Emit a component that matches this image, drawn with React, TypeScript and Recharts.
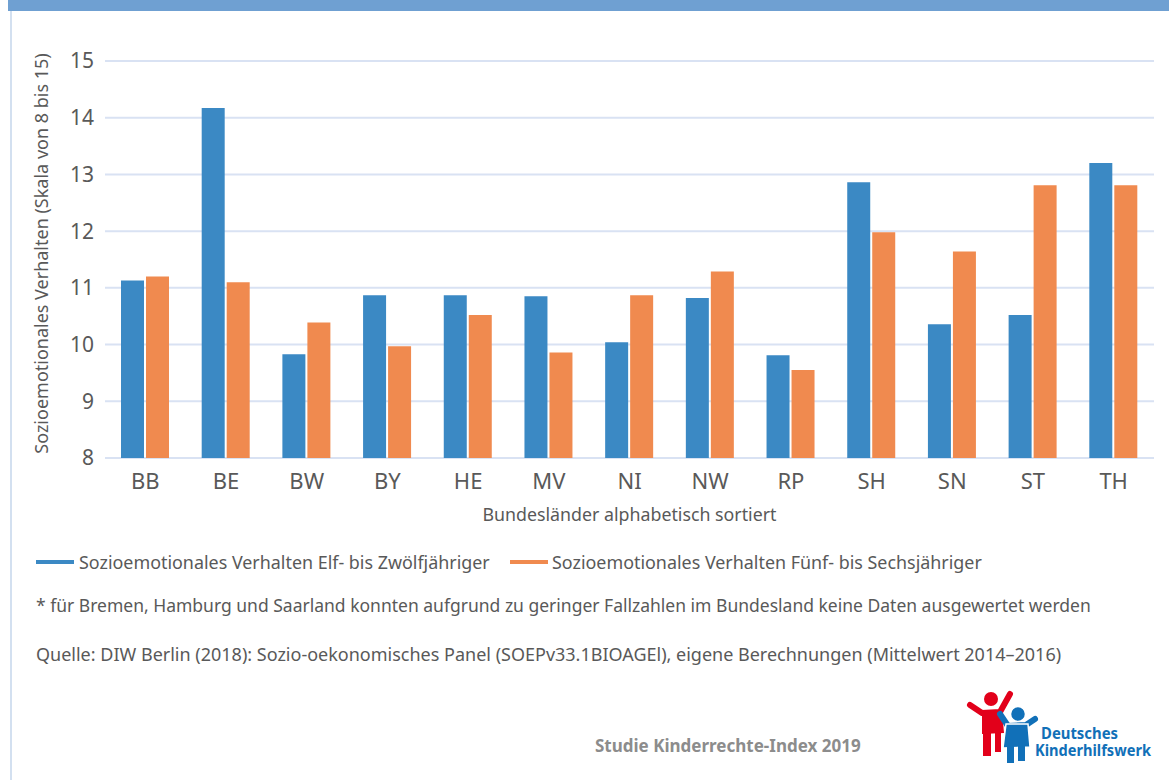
import { Bar, BarChart, CartesianGrid, Label, XAxis, YAxis } from "recharts";

const laender = ["BB", "BE", "BW", "BY", "HE", "MV", "NI", "NW", "RP", "SH", "SN", "ST", "TH"];
const elfBisZwoelf = [11.13, 14.17, 9.83, 10.87, 10.87, 10.85, 10.04, 10.82, 9.81, 12.86, 10.36, 10.52, 13.2];
const fuenfBisSechs = [11.2, 11.1, 10.39, 9.97, 10.52, 9.86, 10.87, 11.29, 9.55, 11.98, 11.64, 12.81, 12.81];
const yTicks = [8, 9, 10, 11, 12, 13, 14, 15];

const nameElf = "Sozioemotionales Verhalten Elf- bis Zwölfjähriger";
const nameFuenf = "Sozioemotionales Verhalten Fünf- bis Sechsjähriger";

const data = laender.map((land, i) => ({
  land,
  elf: elfBisZwoelf[i],
  fuenf: fuenfBisSechs[i],
}));

const BLUE = "#3b89c4";
const ORANGE = "#f08a4f";
const GREY = "#595959";
const FONT = "'Noto Sans', sans-serif";

function Logo() {
  const red = "#e2001a";
  const blue = "#1170b8";
  return (
    <svg width={220} height={100} style={{ position: "absolute", left: 950, top: 680 }}>
      {/* red child */}
      <circle cx={41} cy={19} r={7} fill={red} />
      <polyline points="20,25 32,33 50,32 60,14" fill="none" stroke={red} strokeWidth={6} strokeLinejoin="round" strokeLinecap="round" />
      <polygon points="32,30 52,30 54,53 32,54" fill={red} />
      <rect x={33} y={52} width={8} height={24} fill={red} />
      <rect x={45} y={52} width={6} height={20} fill={red} />
      {/* blue child */}
      <circle cx={68} cy={34} r={7.5} fill={blue} stroke="#fff" strokeWidth={1.5} />
      <polyline points="50,34 58,46 76,45 85,39" fill="none" stroke={blue} strokeWidth={6} strokeLinejoin="round" strokeLinecap="round" />
      <polygon points="56,44 78,44 80,67 53,68" fill={blue} stroke="#fff" strokeWidth={1.5} />
      <rect x={57} y={66} width={7} height={17} fill={blue} />
      <rect x={68} y={66} width={7} height={15} fill={blue} />
      <text x={91} y={59} fill={blue} fontFamily={FONT} fontWeight={700} fontSize={16} textLength={77} lengthAdjust="spacingAndGlyphs">
        Deutsches
      </text>
      <text x={85} y={76} fill={blue} fontFamily={FONT} fontWeight={700} fontSize={16} textLength={116} lengthAdjust="spacingAndGlyphs">
        Kinderhilfswerk
      </text>
    </svg>
  );
}

export default function App() {
  const lineText = { position: "absolute" as const, left: 36, color: GREY, whiteSpace: "nowrap" as const };
  return (
    <div
      style={{
        position: "absolute",
        left: 0,
        top: 0,
        width: 1169,
        height: 780,
        background: "#fff",
        overflow: "hidden",
        fontFamily: FONT,
      }}
    >
      <div style={{ position: "absolute", left: 8, top: 0, width: 1161, height: 11, background: "#6fa0d2" }} />
      <div style={{ position: "absolute", left: 10, top: 11, width: 2, height: 769, background: "#d3e0f0" }} />

      <div style={{ position: "absolute", left: 0, top: 0 }}>
        <BarChart
          width={1169}
          height={540}
          data={data}
          margin={{ top: 61, right: 15, bottom: 10, left: 30 }}
          barSize={23}
          barGap={2}
        >
          <CartesianGrid vertical={false} stroke="#d9e2f3" strokeWidth={2} />
          <XAxis
            dataKey="land"
            axisLine={false}
            tickLine={false}
            height={72}
            tickMargin={9}
            tick={{ fill: GREY, fontSize: 22, fontFamily: FONT }}
          >
            <Label
              value="Bundesländer alphabetisch sortiert"
              position="insideBottom"
              offset={9}
              fill={GREY}
              fontSize={17.8}
              fontFamily={FONT}
            />
          </XAxis>
          <YAxis
            domain={[8, 15]}
            ticks={yTicks}
            axisLine={false}
            tickLine={false}
            width={75}
            tickMargin={5}
            tick={{ fill: GREY, fontSize: 21, fontFamily: FONT }}
          >
            <Label
              value="Sozioemotionales Verhalten (Skala von 8 bis 15)"
              angle={-90}
              position="insideLeft"
              offset={12}
              dy={-6}
              fill={GREY}
              fontSize={18}
              fontFamily={FONT}
              style={{ textAnchor: "middle" }}
            />
          </YAxis>
          <Bar dataKey="elf" name={nameElf} fill={BLUE} isAnimationActive={false} />
          <Bar dataKey="fuenf" name={nameFuenf} fill={ORANGE} isAnimationActive={false} />
        </BarChart>
      </div>

      <div style={{ position: "absolute", left: 36, top: 550, display: "flex", alignItems: "center", fontSize: 17.9, color: GREY, whiteSpace: "nowrap" }}>
        <span style={{ display: "inline-block", width: 38, height: 4, background: BLUE, marginRight: 5 }} />
        <span>{nameElf}</span>
      </div>
      <div style={{ position: "absolute", left: 510, top: 550, display: "flex", alignItems: "center", fontSize: 17.9, color: GREY, whiteSpace: "nowrap" }}>
        <span style={{ display: "inline-block", width: 38, height: 4, background: ORANGE, marginRight: 4 }} />
        <span>{nameFuenf}</span>
      </div>

      <div style={{ ...lineText, top: 593, fontSize: 17.5 }}>
        * für Bremen, Hamburg und Saarland konnten aufgrund zu geringer Fallzahlen im Bundesland keine Daten ausgewertet werden
      </div>
      <div style={{ ...lineText, top: 642, fontSize: 18 }}>
        Quelle: DIW Berlin (2018): Sozio-oekonomisches Panel (SOEPv33.1BIOAGEl), eigene Berechnungen (Mittelwert 2014–2016)
      </div>

      <div style={{ position: "absolute", left: 595, top: 734, fontSize: 17, fontWeight: 700, color: "#8c8c8c", whiteSpace: "nowrap" }}>
        Studie Kinderrechte-Index 2019
      </div>

      <Logo />
    </div>
  );
}
